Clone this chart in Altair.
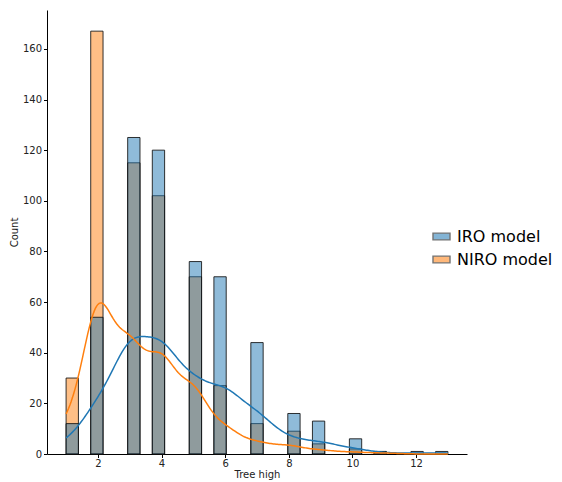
import altair as alt
import numpy as np
import pandas as pd

# Tree heights (integer values) and how many trees per height, per model
heights = [1, 2, 3, 4, 5, 6, 7, 8, 9, 10, 11, 12, 13]
iro_counts = [12, 54, 125, 120, 76, 70, 44, 16, 13, 6, 1, 1, 1]
niro_counts = [30, 167, 115, 102, 70, 27, 12, 9, 4, 2, 1, 0, 0]
models = ["IRO model", "NIRO model"]
colors = ["#1f77b4", "#ff7f0e"]
x_ticks = [2, 4, 6, 8, 10, 12]
y_ticks = [0, 20, 40, 60, 80, 100, 120, 140, 160]

n_bins = 31
edges = np.linspace(min(heights), max(heights), n_bins + 1)
binwidth = float(edges[1] - edges[0])

# histogram table (NIRO first so that IRO is drawn on top)
rows = []
for model, counts in [("NIRO model", niro_counts), ("IRO model", iro_counts)]:
    for h, c in zip(heights, counts):
        if c == 0:
            continue
        i = min(int(np.searchsorted(edges, h, side="right") - 1), n_bins - 1)
        rows.append({"model": model, "x0": float(edges[i]), "x1": float(edges[i + 1]), "count": c})
hist = pd.DataFrame(rows)

# raw observations for the KDE
obs = []
bws = {}
for model, counts in [("IRO model", iro_counts), ("NIRO model", niro_counts)]:
    vals = np.repeat(heights, counts).astype(float)
    bws[model] = float(np.std(vals, ddof=1) * len(vals) ** (-1 / 5))
    obs += [{"model": model, "h": v} for v in vals]
obs = pd.DataFrame(obs)

xscale = alt.Scale(domain=[0.4, 13.6], nice=False, zero=False)
yscale = alt.Scale(domain=[0, 175.35], nice=False)

xaxis = alt.Axis(values=x_ticks, title="Tree high", grid=False, labelFontSize=10,
                 titleFontSize=10, titleFontWeight="normal", tickSize=3.5,
                 labelPadding=1, titleY=23, titleBaseline="alphabetic",
                 domainColor="#000", tickColor="#000",
                 labelColor="#222", titleColor="#222", format="d")
yaxis = alt.Axis(values=y_ticks, title="Count", grid=False, labelFontSize=10,
                 titleFontSize=10, titleFontWeight="normal", tickSize=3.5,
                 labelPadding=2, titlePadding=3, domainColor="#000", tickColor="#000",
                 labelColor="#222", titleColor="#222")

bars = alt.Chart(hist).mark_bar(fillOpacity=0.5, stroke="#111", strokeWidth=1,
                                strokeOpacity=0.85).encode(
    x=alt.X("x0:Q", scale=xscale, axis=xaxis),
    x2="x1:Q",
    y=alt.Y("count:Q", scale=yscale, axis=yaxis, stack=None),
    y2=alt.datum(0),
    color=alt.Color("model:N", scale=alt.Scale(domain=models, range=colors),
                    legend=alt.Legend(
                        title=None, orient="none", legendX=385, legendY=217,
                        symbolType="M-1,-0.4H1V0.4H-1Z", symbolSize=289,
                        symbolStrokeColor="#000", symbolStrokeWidth=1.4,
                        symbolOpacity=0.55,
                        labelFontSize=16, labelColor="#000", labelOffset=6,
                        rowPadding=5, padding=0)),
)

lines = []
for model, col in zip(models, colors):
    ln = alt.Chart(obs).transform_filter(
        alt.datum.model == model
    ).transform_density(
        "h", bandwidth=bws[model], extent=[1, 13], steps=300, counts=True,
        as_=["h", "density"]
    ).transform_calculate(
        kde=f"datum.density * {binwidth}"
    ).mark_line(color=col, strokeWidth=1.5).encode(
        x=alt.X("h:Q", scale=xscale),
        y=alt.Y("kde:Q", scale=yscale),
    )
    lines.append(ln)

chart = alt.layer(bars, *lines).properties(
    width=420, height=444,
    autosize=alt.AutoSizeParams(type="none"),
    padding={"left": 39, "top": 2, "right": 87, "bottom": 26},
).configure(font="DejaVu Sans").configure_view(stroke=None)

chart.save("out.html", embed_options={"renderer": "svg", "actions": False})
